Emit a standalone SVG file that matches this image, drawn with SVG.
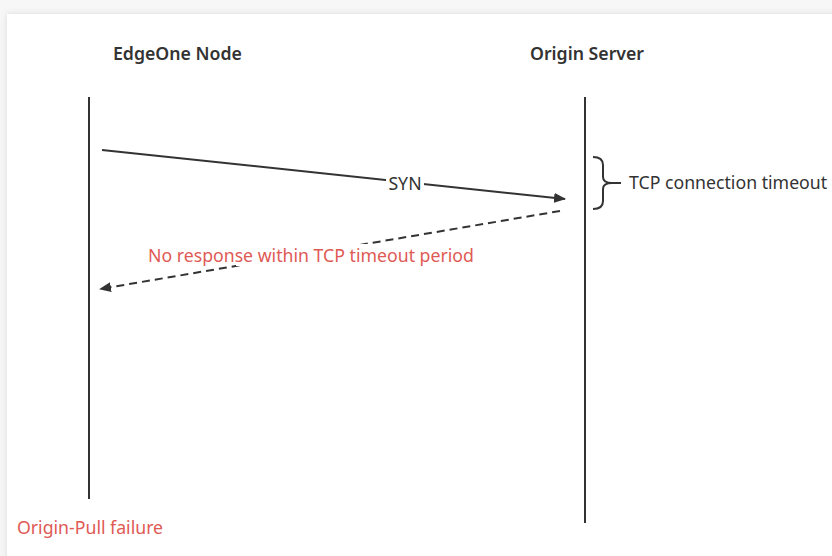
<svg xmlns="http://www.w3.org/2000/svg" width="832" height="556" viewBox="0 0 832 556">
<defs>
<filter id="sh" x="-5%" y="-5%" width="110%" height="110%"><feGaussianBlur stdDeviation="3"/></filter>
<marker id="ah" viewBox="0 0 12 10" refX="11" refY="5" markerWidth="12" markerHeight="10" markerUnits="userSpaceOnUse" orient="auto"><path d="M0,0 L12,5 L0,10 Z" fill="#333"/></marker>
</defs>
<style>
.t{font-family:"Noto Sans","Open Sans",sans-serif;font-size:17.7px;fill:#333}
.h{font-weight:600}
.r{fill:#e05a55}
.life{stroke:#333;stroke-width:2;fill:none}
</style>
<rect width="832" height="556" fill="#f7f7f7"/>
<rect x="7" y="14" width="840" height="560" fill="#bbb" filter="url(#sh)" opacity="0.5"/>
<rect x="7" y="14" width="840" height="560" fill="#fff"/>
<g id="edgeone">
<text class="t h" x="113" y="60">EdgeOne Node</text>
<line class="life" x1="89" y1="97" x2="89" y2="499"/>
</g>
<g id="origin">
<text class="t h" x="530" y="60">Origin Server</text>
<line class="life" x1="585" y1="97" x2="585" y2="523"/>
</g>
<g id="connectors">
<line x1="102" y1="150" x2="565" y2="199" stroke="#333" stroke-width="2" marker-end="url(#ah)"/>
<rect x="386" y="172" width="38" height="20" fill="#fff"/>
<text class="t" x="405" y="190" text-anchor="middle">SYN</text>
<line x1="560" y1="211" x2="100" y2="289" stroke="#333" stroke-width="2" stroke-dasharray="8,5" marker-end="url(#ah)"/>
<rect x="236" y="244" width="132" height="22" fill="#fff"/>
<text class="t r" x="148" y="262">No response within TCP timeout period</text>
</g>
<g id="timeout">
<path d="M593,157 Q603,157 603,165 L603,177 Q603,183 612,183 Q603,183 603,189 L603,201 Q603,209 593,209 M612,183 L621,183" stroke="#333" stroke-width="2" fill="none"/>
<text class="t" x="629" y="189">TCP connection timeout</text>
</g>
<g id="failure">
<text class="t r" x="17" y="534">Origin-Pull failure</text>
</g>
</svg>
